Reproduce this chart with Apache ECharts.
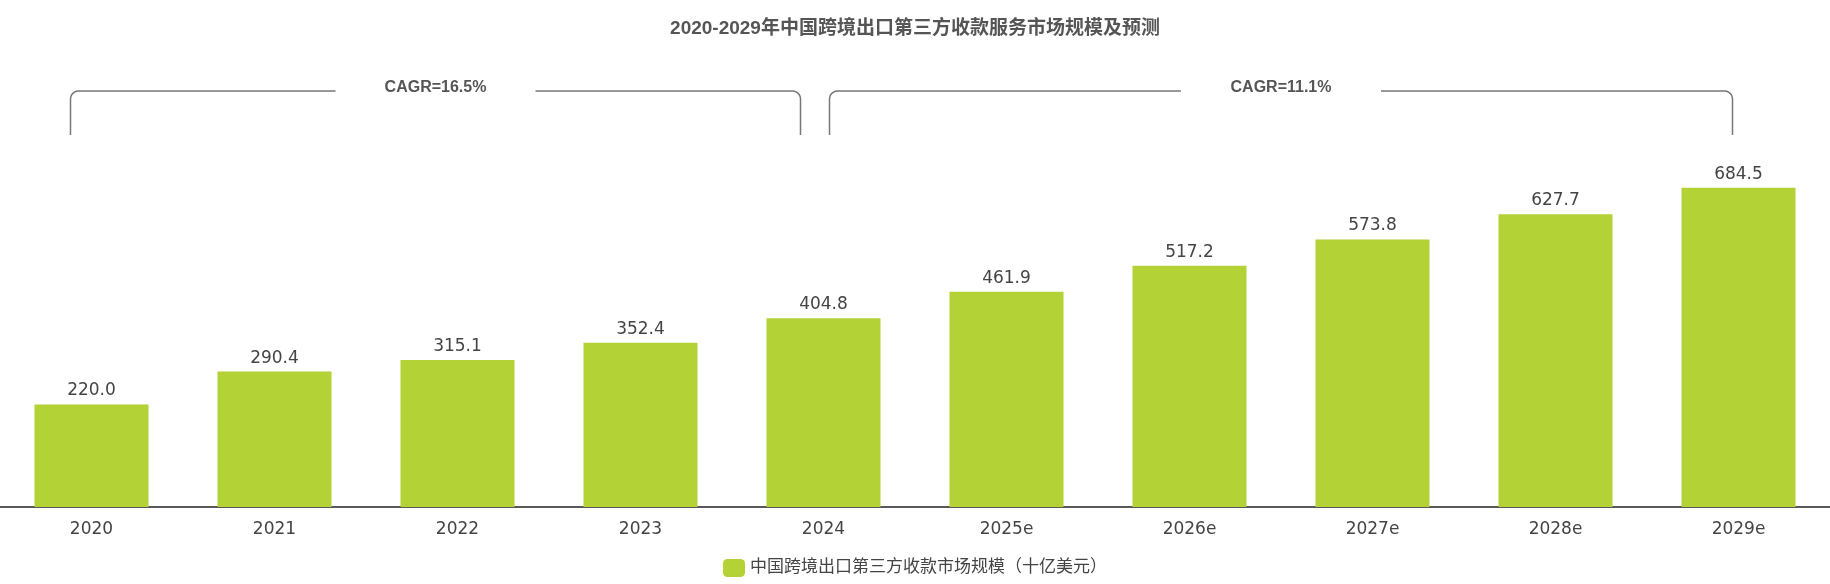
<!DOCTYPE html>
<html><head><meta charset="utf-8">
<script src="https://cdn.jsdelivr.net/npm/echarts@6/dist/echarts.min.js"></script>
<style>html,body{margin:0;padding:0;background:#fff}#main{width:1830px;height:584px}</style>
</head><body><div id="main"></div>
<script>
var years = ['2020','2021','2022','2023','2024','2025e','2026e','2027e','2028e','2029e'];
var values = [220.0, 290.4, 315.1, 352.4, 404.8, 461.9, 517.2, 573.8, 627.7, 684.5];
var cagrLabels = ['CAGR=16.5%', 'CAGR=11.1%'];
var cagrRanges = [[0, 4], [4, 9]];
var seriesName = '中国跨境出口第三方收款市场规模（十亿美元）';

var chart = echarts.init(document.getElementById('main'));
var option = {
  title: {text: '2020-2029年中国跨境出口第三方收款服务市场规模及预测', left: 'center', top: 14,
    textStyle: {fontSize: 19, fontWeight: 'bold', color: '#555', fontFamily: 'Arial, "Noto Sans CJK SC"'}},
  legend: {bottom: 2, itemWidth: 22, itemHeight: 18, itemGap: 8,
    textStyle: {fontSize: 17, color: '#444', fontFamily: '"DejaVu Sans", "Noto Sans CJK SC"'}},
  grid: {left: 0, right: 0, top: 134, bottom: 77},
  xAxis: {type: 'category', data: years,
    axisLine: {lineStyle: {color: '#222', width: 1.5}}, axisTick: {show: false},
    axisLabel: {fontSize: 17, color: '#444', margin: 14, fontFamily: '"DejaVu Sans"'}},
  yAxis: {type: 'value', min: 0, max: 800, show: false, splitLine: {show: false}},
  series: [{name: seriesName, type: 'bar', data: values, barWidth: 114,
    itemStyle: {color: '#b2d235'},
    label: {show: true, position: 'top', fontSize: 17, color: '#444', fontFamily: '"DejaVu Sans"',
      formatter: function (p) { return p.value.toFixed(1); }}}]
};
chart.setOption(option);

// CAGR brackets
var graphics = [];
var yTop = 91, yBot = 135, r = 8;
function corner(cx, sx) {
  // quarter-round corner points from vertical to horizontal
  var pts = [];
  for (var k = 0; k <= 6; k++) {
    var a = Math.PI / 2 * k / 6;
    pts.push([cx + sx * r * (1 - Math.cos(a)), yTop + r * (1 - Math.sin(a))]);
  }
  return pts;
}
cagrRanges.forEach(function (rg, i) {
  var x1 = chart.convertToPixel({xAxisIndex: 0}, years[rg[0]]) + (i === 0 ? -21 : 6);
  var x2 = chart.convertToPixel({xAxisIndex: 0}, years[rg[1]]) + (i === 0 ? -23 : -6);
  var mid = (x1 + x2) / 2, gap = 100;
  var ls = {stroke: '#777', lineWidth: 1.5, fill: null};
  var left = [[x1, yBot]].concat(corner(x1, 1)).concat([[mid - gap, yTop]]);
  var right = [[x2, yBot]].concat(corner(x2, -1)).concat([[mid + gap, yTop]]);
  graphics.push({type: 'polyline', shape: {points: left}, style: ls});
  graphics.push({type: 'polyline', shape: {points: right}, style: ls});
  graphics.push({type: 'text', x: mid, y: yTop - 3, style: {text: cagrLabels[i], align: 'center',
    verticalAlign: 'middle', fontSize: 16, fontWeight: 'bold', fill: '#555', fontFamily: 'Arial'}});
});
chart.setOption({graphic: graphics});
</script></body></html>
